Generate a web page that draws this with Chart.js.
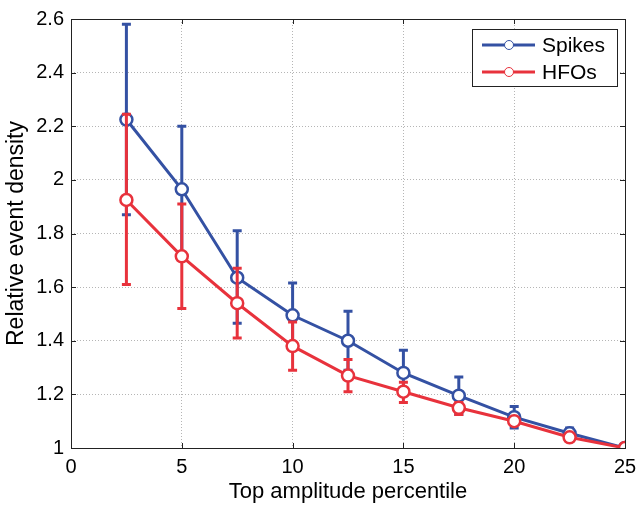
<!DOCTYPE html>
<html>
<head>
<meta charset="utf-8">
<script src="https://cdn.jsdelivr.net/npm/chart.js@4/dist/chart.umd.min.js"></script>
<style>
html,body{margin:0;padding:0;background:#fff;}
#wrap{width:644px;height:510px;}
</style>
</head>
<body>
<div id="wrap"><canvas id="c" width="644" height="510"></canvas></div>
<script>
const percentiles = [2.5, 5, 7.5, 10, 12.5, 15, 17.5, 20, 22.5, 25];
const spikesMean  = [2.225, 1.965, 1.635, 1.495, 1.400, 1.280, 1.195, 1.115, 1.055, 1.000];
const spikesUpper = [2.580, 2.200, 1.810, 1.615, 1.510, 1.365, 1.265, 1.155, 1.075, 1.000];
const spikesLower = [1.870, 1.730, 1.465, 1.375, 1.290, 1.195, 1.125, 1.075, 1.035, 1.000];
const hfosMean    = [1.925, 1.715, 1.540, 1.380, 1.270, 1.210, 1.150, 1.100, 1.040, 1.000];
const hfosUpper   = [2.245, 1.910, 1.670, 1.470, 1.330, 1.245, 1.170, 1.110, 1.050, 1.000];
const hfosLower   = [1.610, 1.520, 1.410, 1.290, 1.210, 1.170, 1.125, 1.090, 1.030, 1.000];
const xTicks = [0, 5, 10, 15, 20, 25];
const yTicks = [1, 1.2, 1.4, 1.6, 1.8, 2, 2.2, 2.4, 2.6];
const seriesNames = ['Spikes', 'HFOs'];
const xTitle = 'Top amplitude percentile';
const yTitle = 'Relative event density';

const BLUE = '#3451a3';
const RED = '#e8323c';
const FONT = "'Liberation Sans', Arial, sans-serif";

function pts(ys) { return percentiles.map((x, i) => ({x: x, y: ys[i]})); }

const errorBars = {
  id: 'errorBars',
  beforeDatasetDraw(chart, args) {
    const ds = chart.data.datasets[args.index];
    if (!ds.errLow) return;
    const xs = chart.scales.x, ys = chart.scales.y, ctx = chart.ctx;
    ctx.save();
    ctx.strokeStyle = ds.borderColor;
    ctx.lineWidth = 3;
    ctx.lineCap = 'butt';
    percentiles.forEach((xv, i) => {
      const lo = ds.errLow[i], hi = ds.errHigh[i];
      if (hi - lo < 1e-9) return;
      const px = xs.getPixelForValue(xv);
      const pl = ys.getPixelForValue(lo), ph = ys.getPixelForValue(hi);
      ctx.beginPath();
      ctx.moveTo(px, pl); ctx.lineTo(px, ph);
      ctx.moveTo(px - 4.5, pl); ctx.lineTo(px + 4.5, pl);
      ctx.moveTo(px - 4.5, ph); ctx.lineTo(px + 4.5, ph);
      ctx.stroke();
    });
    ctx.restore();
  }
};

const frameAndLegend = {
  id: 'frameAndLegend',
  afterDraw(chart) {
    const ctx = chart.ctx, a = chart.chartArea;
    const xs = chart.scales.x, ys = chart.scales.y;
    ctx.save();
    ctx.strokeStyle = '#222';
    ctx.lineWidth = 1;
    ctx.strokeRect(Math.round(a.left) + 0.5, Math.round(a.top) + 0.5, Math.round(a.right - a.left), Math.round(a.bottom - a.top));
    const tl = 5;
    ctx.beginPath();
    xTicks.forEach(v => {
      const p = Math.round(xs.getPixelForValue(v)) + 0.5;
      ctx.moveTo(p, a.bottom); ctx.lineTo(p, a.bottom - tl);
      ctx.moveTo(p, a.top); ctx.lineTo(p, a.top + tl);
    });
    yTicks.forEach(v => {
      const p = Math.round(ys.getPixelForValue(v)) + 0.5;
      ctx.moveTo(a.left, p); ctx.lineTo(a.left + tl, p);
      ctx.moveTo(a.right, p); ctx.lineTo(a.right - tl, p);
    });
    ctx.stroke();

    // legend
    const bw = 145, bh = 57;
    const bx = Math.round(a.right - 8 - bw), by = Math.round(a.top + 10);
    ctx.fillStyle = '#fff';
    ctx.fillRect(bx, by, bw, bh);
    ctx.strokeStyle = '#222';
    ctx.strokeRect(bx + 0.5, by + 0.5, bw, bh);
    ctx.font = '21px ' + FONT;
    ctx.textBaseline = 'middle';
    ctx.textAlign = 'left';
    chart.data.datasets.forEach((ds, i) => {
      const cy = by + 16 + i * 27;
      ctx.strokeStyle = ds.borderColor;
      ctx.lineWidth = 3;
      ctx.beginPath();
      ctx.moveTo(bx + 10, cy); ctx.lineTo(bx + 63, cy);
      ctx.stroke();
      ctx.beginPath();
      ctx.arc(bx + 37, cy, 4.5, 0, Math.PI * 2);
      ctx.fillStyle = '#fff';
      ctx.fill();
      ctx.lineWidth = 1;
      ctx.stroke();
      ctx.fillStyle = '#000';
      ctx.fillText(ds.label, bx + 70, cy + 1);
    });
    ctx.restore();
  }
};

new Chart(document.getElementById('c'), {
  type: 'line',
  data: {
    datasets: [
      { label: seriesNames[0], data: pts(spikesMean), errLow: spikesLower, errHigh: spikesUpper,
        borderColor: BLUE, backgroundColor: '#fff', borderWidth: 3, pointRadius: 6,
        pointBorderWidth: 2.5, pointBackgroundColor: '#fff', pointBorderColor: BLUE, tension: 0, order: 1 },
      { label: seriesNames[1], data: pts(hfosMean), errLow: hfosLower, errHigh: hfosUpper,
        borderColor: RED, backgroundColor: '#fff', borderWidth: 3, pointRadius: 6,
        pointBorderWidth: 2.5, pointBackgroundColor: '#fff', pointBorderColor: RED, tension: 0, order: 0 }
    ]
  },
  options: {
    responsive: false,
    animation: false,
    devicePixelRatio: 1,
    layout: { padding: { left: 0, right: 19, top: 12, bottom: 0 } },
    plugins: { legend: { display: false }, tooltip: { enabled: false } },
    scales: {
      x: {
        type: 'linear', min: 0, max: 25,
        afterBuildTicks: s => { s.ticks = xTicks.map(v => ({value: v})); },
        afterFit: s => { s.height = 62; },
        ticks: { color: '#000', padding: 7, font: { family: FONT, size: 20 }, callback: v => String(v), maxRotation: 0 },
        grid: { color: '#b5b5b5', lineWidth: 1, drawTicks: false },
        border: { display: false, dash: [1, 2] },
        title: { display: true, text: xTitle, color: '#000', font: { family: FONT, size: 22 }, padding: { top: 0, bottom: 5 } }
      },
      y: {
        type: 'linear', min: 1, max: 2.6,
        afterBuildTicks: s => { s.ticks = yTicks.map(v => ({value: v})); },
        afterFit: s => { s.width = 71; },
        ticks: { color: '#000', padding: 7, font: { family: FONT, size: 20 }, callback: v => String(v) },
        grid: { color: '#b5b5b5', lineWidth: 1, drawTicks: false },
        border: { display: false, dash: [1, 2] },
        title: { display: true, text: yTitle, color: '#000', font: { family: FONT, size: 23 }, padding: { top: 3, bottom: 0 } }
      }
    }
  },
  plugins: [errorBars, frameAndLegend]
});
</script>
</body>
</html>
